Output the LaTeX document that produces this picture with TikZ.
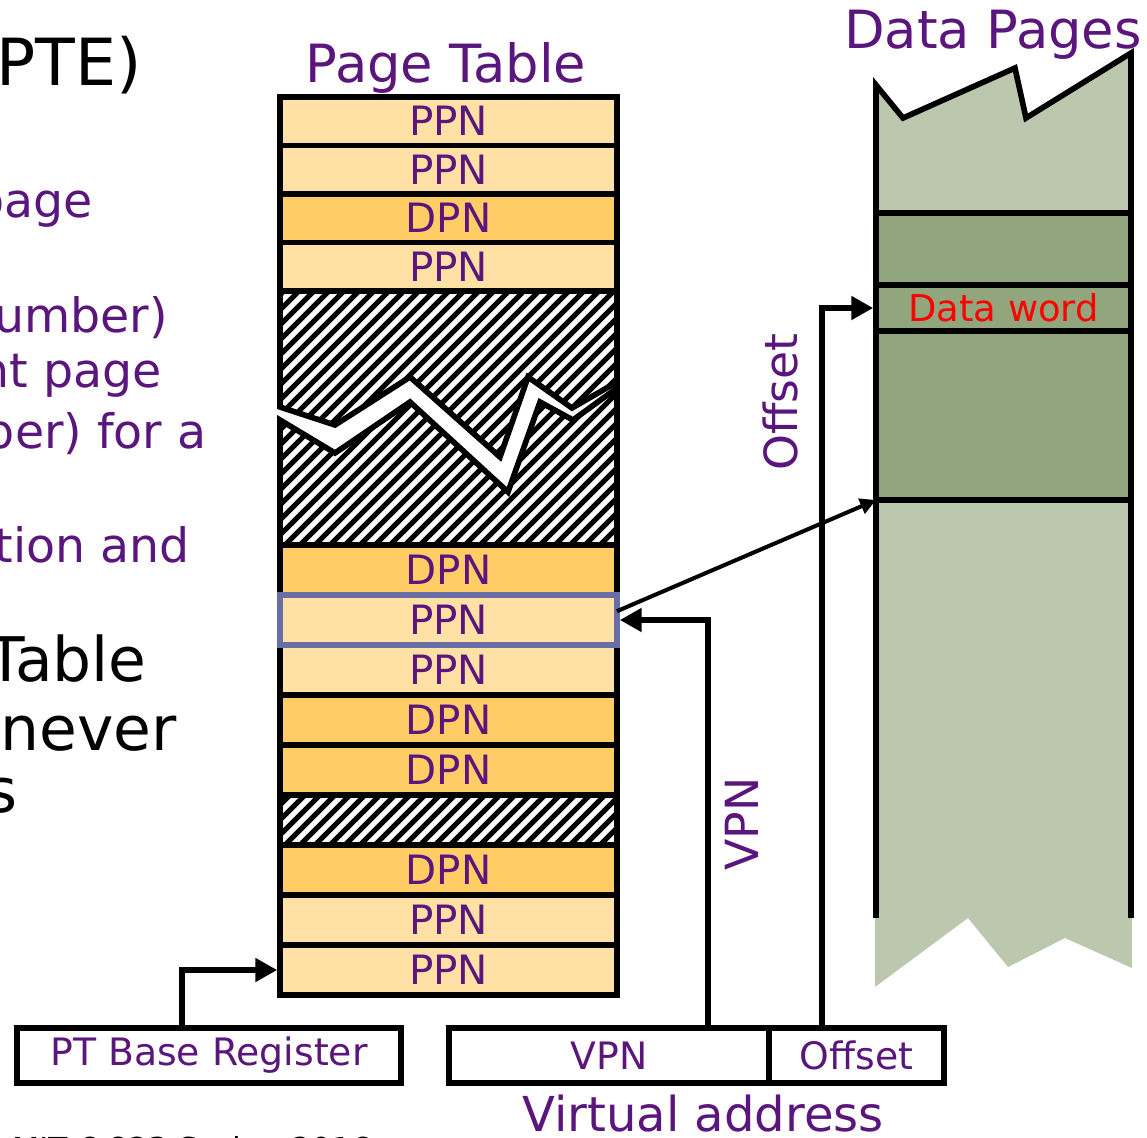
\documentclass[tikz,border=0pt]{standalone}
\usepackage{fontspec}
\setmainfont{DejaVu Sans}
\usepackage{tikz}
\usetikzlibrary{arrows.meta}

\definecolor{ptpurple}{RGB}{90,22,125}
\definecolor{ptorange}{RGB}{255,204,102}
\definecolor{ptgreen}{RGB}{145,166,124}
\definecolor{ptblue}{RGB}{104,110,166}

\begin{document}
\begin{tikzpicture}[x=0.02cm, y=-0.02cm,
    entry/.style={draw, line width=3.2pt, minimum width=6.74cm, inner sep=0pt, outer sep=0pt, text=ptpurple, font=\fontsize{23}{27}\selectfont},
    ppn/.style={entry, fill=ptorange!58},
    dpn/.style={entry, fill=ptorange},
    gap/.style={entry},
    field/.style={draw, line width=3.2pt, minimum height=1.1cm, inner sep=0pt, text=ptpurple, font=\fontsize{21.5}{25}\selectfont},
    arr/.style={line width=3.6pt, -{Triangle[length=12.5pt, width=13pt]}},
    lbl/.style={text=ptpurple, font=\fontsize{30}{34}\selectfont},
    sidelbl/.style={text=ptpurple, font=\fontsize{27}{31}\selectfont, anchor=base east, inner sep=0pt},
    bigtxt/.style={font=\fontsize{35}{40}\selectfont, anchor=base east, inner sep=0pt}]
    \useasboundingbox (0,0) rectangle (1147,1137);
    \clip (0,0) rectangle (1147,1137);

    \node[bigtxt, font=\fontsize{37}{42}\selectfont] (t1) at (142,85) {PTE)};
    \node[sidelbl] (t2) at (93,217) {page};
    \node[sidelbl] (t3) at (168,332) {umber)};
    \node[sidelbl] (t4) at (162,387) {nt page};
    \node[sidelbl] (t5) at (207,448) {ber) for a};
    \node[sidelbl] (t6) at (190,562) {tion and};
    \node[bigtxt] (t7) at (147,681) {Table};
    \node[bigtxt] (t8) at (177,750) {never};
    \node[bigtxt] (t9) at (18,812) {s};
    \node[anchor=base west, inner sep=0pt, font=\fontsize{18}{22}\selectfont] (foot) at (12,1160) {MIT 6.823 Spring 2016};

    \node[lbl, anchor=base] (pttitle) at (446,82) {Page Table};
    \node[lbl, anchor=base] (dptitle) at (993,48) {Data Pages};
    \node[lbl, anchor=base, font=\fontsize{27.4}{31}\selectfont] (vatitle) at (703,1131) {Virtual address};

    \begin{scope}
        \clip (280,291) -- (617,291) -- (617,382) -- (572,408) -- (528,377) -- (500,457)
            -- (410,377) -- (335,425) -- (280,407) -- cycle
            (280,420) -- (335,453) -- (410,402) -- (508,492) -- (540,402) -- (573,420)
            -- (617,388) -- (617,545) -- (280,545) -- cycle
            (280,795) rectangle (617,845);
        \foreach \k in {0,...,75}
            \draw[line width=3pt] (-440+\k*15,1000) -- ++(760,-760);
    \end{scope}
    \draw[line width=3.2pt] (280,291) -- (617,291) -- (617,382) -- (572,408) -- (528,377) -- (500,457)
        -- (410,377) -- (335,425) -- (280,407) -- cycle;
    \draw[line width=3.2pt] (280,420) -- (335,453) -- (410,402) -- (508,492) -- (540,402) -- (573,420)
        -- (617,388) -- (617,545) -- (280,545) -- cycle;

    \foreach \n/\y/\kind/\txt in {1/121.25/ppn/PPN, 2/169.75/ppn/PPN, 3/218.25/dpn/DPN, 4/266.75/ppn/PPN}
        \node[\kind, minimum height=0.97cm] (r\n) at (448.5,\y) {\txt};
    \foreach \n/\y/\kind/\txt in {6/570/dpn/DPN, 7/620/ppn/PPN, 8/670/ppn/PPN, 9/720/dpn/DPN, 10/770/dpn/DPN,
                                   11/820/gap/{}, 12/870/dpn/DPN, 13/920/ppn/PPN, 14/970/ppn/PPN}
        \node[\kind, minimum height=1cm] (r\n) at (448.5,\y) {\txt};
    \draw[ptblue, line width=3.4pt] (r7.north west) rectangle (r7.south east);

    \filldraw[fill=ptgreen!62, line width=3.2pt] (876,213) -- (876,85) -- (903,118) -- (1015,68) -- (1026,118)
        -- (1131,53) -- (1131,213) -- cycle;
    \fill[ptgreen!62] (876,500) -- (1131,500) -- (1132,968) -- (1065,938) -- (1008,967) -- (968,918)
        -- (875,987) -- cycle;
    \draw[line width=3.2pt] (876,918) -- (876,500) -- (1131,500) -- (1131,918);
    \filldraw[fill=ptgreen, line width=3.2pt] (876,213) rectangle (1131,500);
    \node[draw, line width=3.2pt, fill=ptgreen, minimum width=5.1cm, minimum height=0.92cm, inner sep=0pt,
          text=red, font=\fontsize{21}{25}\selectfont] (dword) at (1003.5,308) {Data word};
    \coordinate (pgbase) at (876,500);

    \node[field, minimum width=7.68cm] (ptbr) at (209,1055.5) {PT Base Register};
    \node[field, minimum width=6.4cm] (vpn) at (609,1055.5) {VPN};
    \node[field, minimum width=3.5cm] (ofs) at (856.5,1055.5) {Offset};

    \node[lbl, rotate=90, font=\fontsize{26}{30}\selectfont] (ofslbl) at (780,402) {Offset};
    \node[lbl, rotate=90, font=\fontsize{26}{30}\selectfont] (vpnlbl) at (742,824) {VPN};

    \draw[arr] ([xshift=-0.54cm]ptbr.north) |- ([xshift=-1.6pt]r14.west);
    \draw[arr] ([xshift=1.98cm]vpn.north) |- ([xshift=1.6pt]r7.east);
    \draw[arr] ([xshift=-0.69cm]ofs.north) |- (dword.west);
    \draw[line width=2.3pt, -{Triangle[length=9pt, width=9pt]}] (r7.3) -- (pgbase);
\end{tikzpicture}
\end{document}
